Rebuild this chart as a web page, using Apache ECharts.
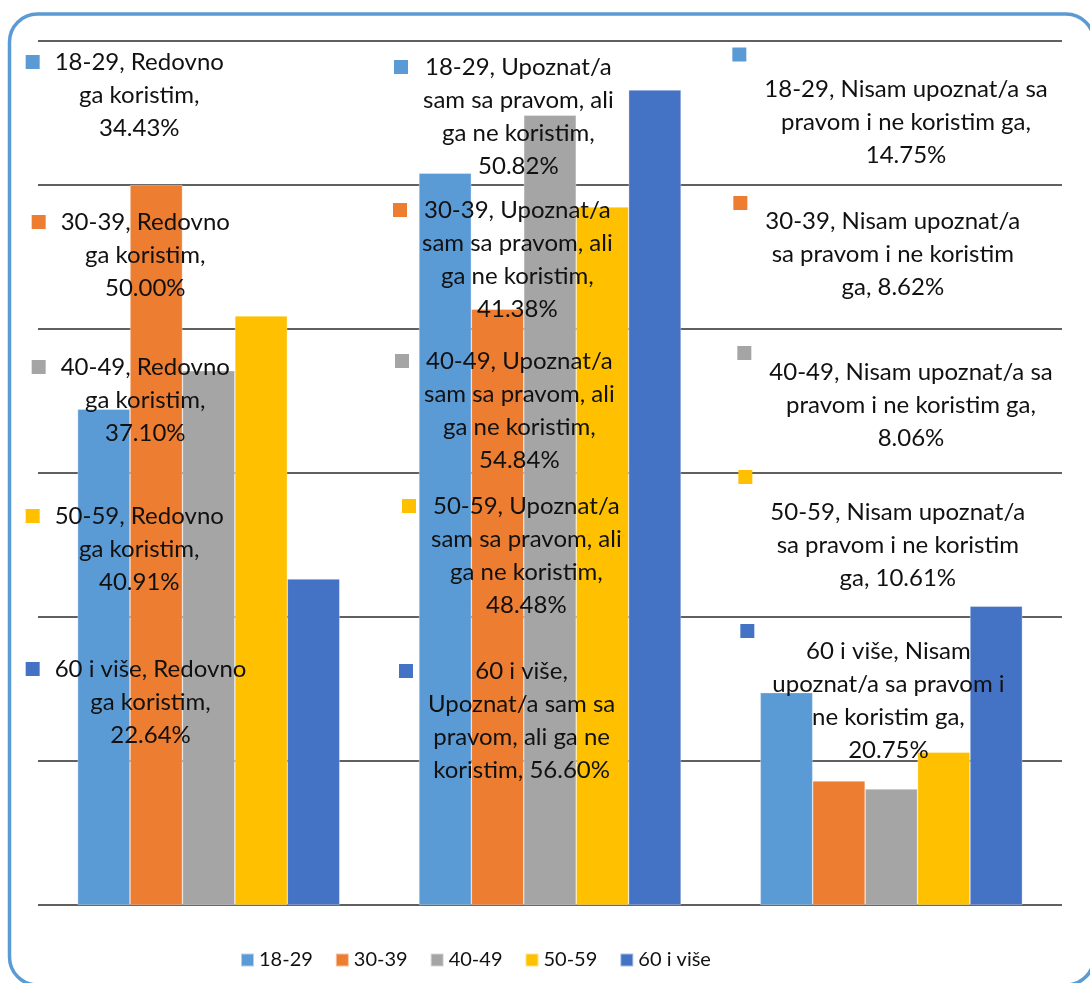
<!DOCTYPE html>
<html>
<head>
<meta charset="utf-8">
<script src="https://cdn.jsdelivr.net/npm/echarts@6/dist/echarts.min.js"></script>
<style>
  html, body { margin: 0; padding: 0; background: #ffffff; }
  #chart { width: 1090px; height: 983px; }
</style>
</head>
<body>
<div id="chart"></div>
<script>
// Survey answers by age group (share of respondents, %)
const categories = [
  'Redovno ga koristim',
  'Upoznat/a sam sa pravom, ali ga ne koristim',
  'Nisam upoznat/a sa pravom i ne koristim ga'
];
const ageGroups = ['18-29', '30-39', '40-49', '50-59', '60 i više'];
const share1829 = [34.43, 50.82, 14.75];
const share3039 = [50.00, 41.38, 8.62];
const share4049 = [37.10, 54.84, 8.06];
const share5059 = [40.91, 48.48, 10.61];
const share60plus = [22.64, 56.60, 20.75];
const seriesValues = [share1829, share3039, share4049, share5059, share60plus];

const colors = ['#5b9bd5', '#ed7d31', '#a5a5a5', '#ffc000', '#4472c4'];

// ---- layout of the free-standing data labels ----
// words per wrapped line, [age group][answer]
const labelWords = [
  [[2, 2, 1], [2, 4, 3, 1], [4, 5, 1]],
  [[2, 2, 1], [2, 4, 3, 1], [3, 5, 2]],
  [[2, 2, 1], [2, 4, 3, 1], [4, 5, 1]],
  [[2, 2, 1], [2, 4, 3, 1], [3, 5, 2]],
  [[4, 2, 1], [3, 3, 4, 2], [4, 4, 3, 1]]
];
// left edge of the legend key, relative to the category centre (px)
const keyDx = [
  [-183, -156, -159],
  [-177, -157, -158],
  [-177, -155, -154],
  [-183, -148, -153],
  [-183, -151, -151]
];
// middle of the first text line, below the plot top (px)
const textY = [
  [21, 26, 48],
  [181, 169, 180],
  [326, 320, 331],
  [475, 465, 471],
  [628, 630, 610]
];
// third answer: key sits on its own line, middle below the plot top (px)
const ownKeyY = [13.5, 162, 312, 436, 590];
const keyOnOwnLine = [false, false, true];

const GRID = { left: 38, right: 28, top: 41, bottom: 78 };
const CHART_W = 1090;
const FONT = 'Lato';
const FONT_SIZE = 24;
const LINE_H = 33;

const measureCtx = document.createElement('canvas').getContext('2d');
measureCtx.font = FONT_SIZE + 'px ' + FONT;
const measure = s => measureCtx.measureText(s).width;

const labelBoxes = ageGroups.map(() => []);

function buildItem(i, j) {
  const v = seriesValues[i][j];
  const words = (ageGroups[i] + ', ' + categories[j] + ', ' + v.toFixed(2) + '%').split(' ');
  const lines = [];
  let k = 0;
  labelWords[i][j].forEach(n => { lines.push(words.slice(k, k + n).join(' ')); k += n; });
  const maxW = Math.max.apply(null, lines.map(measure));
  const own = keyOnOwnLine[j];
  const gap = own ? 32 : 29;
  let text;
  let keyLine = LINE_H;
  let top;
  if (own) {
    keyLine = 2 * (textY[i][j] - ownKeyY[i]) - LINE_H;
    text = '{k|}\n' + lines.map(l => '{t|' + l + '}').join('\n');
    top = ownKeyY[i] - keyLine / 2;
  } else {
    text = '{k|}{t|' + lines[0] + '}{s|}\n' + lines.slice(1).map(l => '{t|' + l + '}').join('\n');
    top = textY[i][j] - LINE_H / 2;
  }
  labelBoxes[i][j] = { dx: keyDx[i][j], top: top };
  return {
    value: v,
    label: {
      formatter: text,
      width: maxW + 2 * gap,
      rich: {
        k: { width: 14, height: 14, backgroundColor: colors[i], align: 'left', lineHeight: keyLine },
        s: { width: 14, height: 14, align: 'right', lineHeight: LINE_H },
        t: { fontFamily: FONT, fontSize: FONT_SIZE, color: '#111111', align: 'center', lineHeight: LINE_H }
      }
    }
  };
}

const plotW = CHART_W - GRID.left - GRID.right;
function categoryCentre(j) {
  return GRID.left + (j + 0.5) * plotW / categories.length;
}

const series = ageGroups.map((name, i) => ({
  name: name,
  type: 'bar',
  barGap: '0%',
  barCategoryGap: '23.2%',
  itemStyle: { color: colors[i], borderColor: 'rgba(255,255,255,0.55)', borderWidth: 0.6 },
  label: { show: true, position: 'top' },
  labelLayout: p => {
    const b = labelBoxes[p.seriesIndex][p.dataIndex];
    return {
      x: categoryCentre(p.dataIndex) + b.dx,
      y: GRID.top + b.top,
      align: 'left',
      verticalAlign: 'top'
    };
  },
  data: categories.map((c, j) => buildItem(i, j))
}));

const chart = echarts.init(document.getElementById('chart'), null, { renderer: 'canvas' });
chart.setOption({
  animation: false,
  backgroundColor: '#ffffff',
  textStyle: { fontFamily: FONT },
  grid: Object.assign({ outerBoundsMode: 'none', containLabel: false }, GRID),
  legend: {
    data: ageGroups,
    left: 240,
    top: 950,
    padding: 0,
    itemGap: 22,
    itemWidth: 13,
    itemHeight: 13,
    icon: 'rect',
    textStyle: { fontFamily: FONT, fontSize: 20, color: '#111111' }
  },
  xAxis: {
    type: 'category',
    data: categories,
    axisLine: { show: false },
    axisTick: { show: false },
    axisLabel: { show: false },
    splitLine: { show: false }
  },
  yAxis: {
    type: 'value',
    min: 0,
    max: 60,
    interval: 10,
    axisLine: { show: false },
    axisTick: { show: false },
    axisLabel: { show: false },
    splitLine: { show: true, lineStyle: { color: '#606060', width: 2 } }
  },
  graphic: [{
    type: 'rect',
    silent: true,
    z: -10,
    shape: { x: 9.5, y: 14, width: 1084.5, height: 971, r: 28 },
    style: { fill: 'none', stroke: '#5b9bd5', lineWidth: 3.5 }
  }],
  series: series
});
</script>
</body>
</html>
